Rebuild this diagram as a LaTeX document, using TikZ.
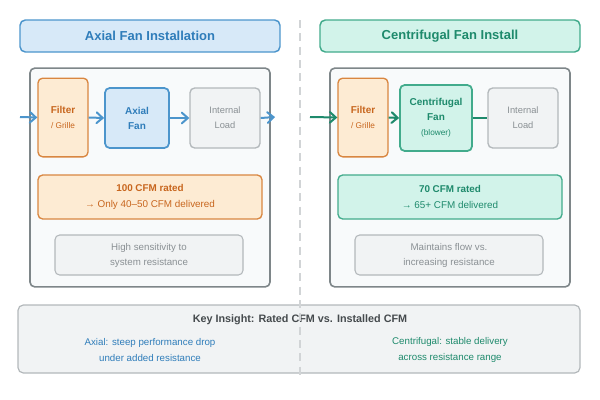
\documentclass[tikz,border=0pt]{standalone}
\usepackage{fontspec}
\setmainfont{Liberation Sans}
\usetikzlibrary{arrows.meta, positioning}
\definecolor{AxBlue}{HTML}{2F7DBA}
\definecolor{AxLine}{HTML}{4C95CC}
\definecolor{AxFill}{HTML}{D7E9F8}
\definecolor{CfTeal}{HTML}{1E8A6C}
\definecolor{CfLine}{HTML}{42AB8C}
\definecolor{CfFill}{HTML}{D2F3EA}
\definecolor{Rust}{HTML}{C8661E}
\definecolor{RustLine}{HTML}{D98640}
\definecolor{Peach}{HTML}{FDEBD3}
\definecolor{Slate}{HTML}{7E8689}
\definecolor{Mist}{HTML}{F8FAFB}
\definecolor{Ash}{HTML}{B3B8BB}
\definecolor{AshFill}{HTML}{F1F3F4}
\definecolor{AshText}{HTML}{8A9094}
\definecolor{Coal}{HTML}{454A4D}

\begin{document}
\begin{tikzpicture}[
        x=0.75pt, y=-0.75pt,
        title/.style={draw, rounded corners=4pt, line width=1.1pt, minimum width=195pt, minimum height=24pt, font=\fontsize{9.75}{12}\selectfont\bfseries},
        panel/.style={draw=Slate, fill=Mist, rounded corners=3.5pt, line width=1.2pt, minimum width=180pt, minimum height=164pt},
        filterbox/.style={draw=RustLine, fill=Peach, rounded corners=3.5pt, line width=1pt, minimum width=37.5pt, minimum height=59pt, align=center, text=Rust, font=\fontsize{7.5}{11.25}\selectfont},
        fanbox/.style={rounded corners=3.5pt, line width=1.3pt, minimum height=45pt, align=center, font=\fontsize{7.5}{11.25}\selectfont\bfseries},
        loadbox/.style={draw=Ash, fill=AshFill, rounded corners=3.5pt, line width=1pt, minimum width=52.5pt, minimum height=45pt, align=center, text=AshText, font=\fontsize{7}{11.25}\selectfont},
        ratebox/.style={rounded corners=3.5pt, line width=1pt, minimum width=168pt, minimum height=33pt, align=center, font=\fontsize{7.4}{12}\selectfont},
        notebox/.style={draw=Ash, fill=AshFill, rounded corners=3.5pt, line width=0.8pt, minimum width=141pt, minimum height=30pt, align=center, text=AshText, font=\fontsize{7.3}{11.25}\selectfont},
        keytext/.style={align=center, font=\fontsize{7.3}{12.5}\selectfont},
        flow/.style={-{Straight Barb[length=4.5pt, width=8pt, line cap=round]}, line width=1.5pt}
      ]
        \useasboundingbox (0,0) rectangle (600,400);

        % headers
        \node[title, fill=AxFill, draw=AxLine, text=AxBlue] (axtitle) at (150,36) {Axial Fan Installation};
        \node[title, fill=CfFill, draw=CfLine, text=CfTeal] (cftitle) at (450,36) {Centrifugal Fan Install};

        % panels
        \node[panel] (axpanel) at (150,177.5) {};
        \node[panel] (cfpanel) at (450,177.5) {};

        % axial chain
        \node[filterbox] (axfilter) at (63,117.5) {\textbf{Filter}\\{\fontsize{6.2}{9}\selectfont / Grille}};
        \node[fanbox, draw=AxLine, fill=AxFill, text=AxBlue, minimum width=48pt] (axfan) at (137,118) {Axial\\Fan};
        \node[loadbox] (axload) at (225,118) {Internal\\Load};
        \coordinate (axin) at (20,117);
        \coordinate (axout) at (275,117);

        % centrifugal chain
        \node[filterbox] (cffilter) at (363,117.5) {\textbf{Filter}\\{\fontsize{6.2}{9}\selectfont / Grille}};
        \node[fanbox, draw=CfLine, fill=CfFill, text=CfTeal, minimum width=54pt, minimum height=49.5pt] (cffan) at (436,118) {Centrifugal\\Fan\\{\fontsize{6.2}{9}\selectfont\mdseries (blower)}};
        \node[loadbox] (cfload) at (523,118) {Internal\\Load};
        \coordinate (cfin) at (310,117);

        \draw[flow, AxLine] (axin) -- (axfilter.west);
        \draw[flow, AxLine] (axfilter.east) -- (axfan.west);
        \draw[flow, AxLine] (axfan.east) -- (axload.west);
        \draw[flow, AxLine] (axload.east) -- (axout);

        \draw[flow, CfTeal] (cfin) -- (cffilter.west);
        \draw[flow, CfTeal] (cffilter.east) -- (cffan.west);
        \draw[line width=1.5pt, CfTeal] (cffan.east) -- (cfload.west);

        % ratings
        \node[ratebox, draw=RustLine, fill=Peach, text=Rust] (axrate) at (150,197) {\textbf{100 CFM rated}\\→ Only 40–50 CFM delivered};
        \node[notebox] (axnote) at (149,255) {High sensitivity to\\system resistance};
        \node[ratebox, draw=CfLine, fill=CfFill, text=CfTeal] (cfrate) at (450,197) {\textbf{70 CFM rated}\\→ 65+ CFM delivered};
        \node[notebox] (cfnote) at (449,255) {Maintains flow vs.\\increasing resistance};

        % insight
        \node[draw=Ash, fill=AshFill, rounded corners=4pt, line width=0.9pt, minimum width=421.5pt, minimum height=51pt] (insight) at (299,339) {};
        \node[text=Coal, font=\fontsize{8.1}{10}\selectfont\bfseries] (keytitle) at (300,320) {Key Insight: Rated CFM vs. Installed CFM};
        \node[keytext, text=AxBlue] (axkey) at (150,350) {Axial: steep performance drop\\under added resistance};
        \node[keytext, text=CfTeal] (cfkey) at (450,350) {Centrifugal: stable delivery\\across resistance range};

        \draw[dashed, dash pattern=on 6pt off 4pt, line width=1pt, color=Ash!60] (300,20) -- (300,375);
      \end{tikzpicture}
\end{document}
